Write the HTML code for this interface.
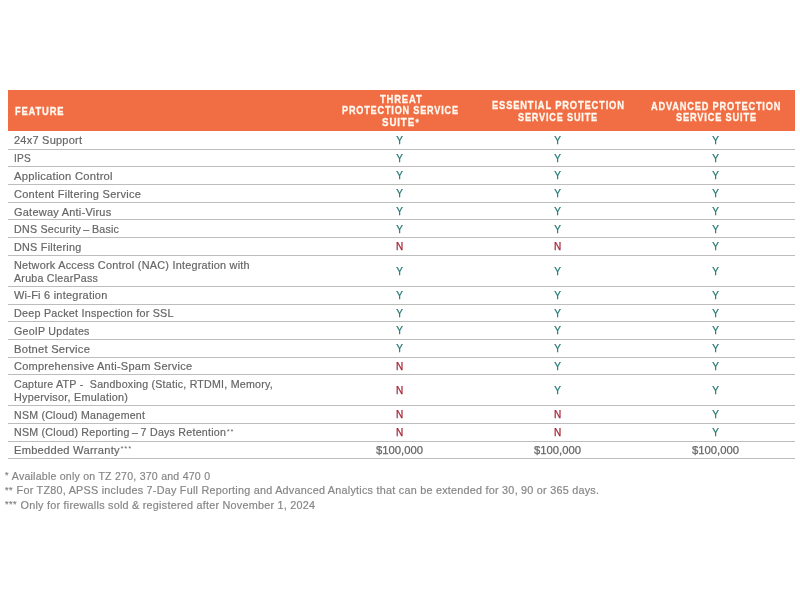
<!DOCTYPE html>
<html><head><meta charset="utf-8">
<style>
html,body{margin:0;padding:0;background:#fff;width:800px;height:600px;overflow:hidden}
body{font-family:"Liberation Sans",sans-serif;position:relative}
.hdr{position:absolute;left:8px;top:89.5px;width:786.5px;height:41px;background:#f16e45}
.ht{position:absolute;color:#fff9f0;-webkit-text-stroke:0.3px currentColor;font-weight:bold;font-size:11.2px;line-height:12px;letter-spacing:1.0px;white-space:nowrap;transform-origin:0 0}
.ht sup{font-size:9.5px;vertical-align:0;position:relative;top:-1.2px;letter-spacing:0;margin-left:0.5px}
.ln{position:absolute;left:8px;width:786.5px;height:1px;background:#bdbdbd}
.row{position:absolute;left:0;width:800px}
.f{position:absolute;left:14px;top:1.2px;bottom:-1.2px;display:flex;flex-direction:column;justify-content:center;font-size:11.3px;line-height:13.2px;color:#666666;white-space:nowrap;letter-spacing:0.25px;-webkit-text-stroke:0.2px currentColor}
.fl{transform-origin:0 50%}
.v{position:absolute;top:0.4px;bottom:-0.4px;width:158px;display:flex;align-items:center;justify-content:center;font-size:10px;-webkit-text-stroke:0.25px currentColor}
.Y{color:#267873}
.N{color:#a22538}
.P{color:#666666;font-size:11.3px;transform:translateY(-0.5px)}
.ast{font-size:8px;position:relative;top:-2.5px;letter-spacing:0.9px;margin-left:0.6px;-webkit-text-stroke:0}
.foot{position:absolute;left:5px;letter-spacing:0.25px;font-size:11.3px;color:#868686;white-space:nowrap;transform-origin:0 0;-webkit-text-stroke:0.2px currentColor}
.foot .ast{font-size:9.5px;top:-1.5px;margin-left:0;margin-right:0.3px;letter-spacing:0.5px;-webkit-text-stroke:0.2px currentColor}
.aa{will-change:transform}
</style></head><body><div class="aa" style="position:absolute;left:0;top:0;width:800px;height:600px">
<div class="hdr"></div>
<div class="ht" style="left:15.14px;top:105.00px;transform:scaleX(0.8359)">FEATURE</div>
<div class="ht" style="left:379.61px;top:93.10px;transform:scaleX(0.8415)">THREAT</div>
<div class="ht" style="left:341.99px;top:104.45px;transform:scaleX(0.8155)">PROTECTION SERVICE</div>
<div class="ht" style="left:381.81px;top:116.10px;transform:scaleX(0.8718)">SUITE<sup>*</sup></div>
<div class="ht" style="left:491.98px;top:99.00px;transform:scaleX(0.8349)">ESSENTIAL PROTECTION</div>
<div class="ht" style="left:518.00px;top:111.00px;transform:scaleX(0.8165)">SERVICE SUITE</div>
<div class="ht" style="left:651.00px;top:99.60px;transform:scaleX(0.8239)">ADVANCED PROTECTION</div>
<div class="ht" style="left:676.00px;top:111.00px;transform:scaleX(0.8256)">SERVICE SUITE</div>
<div class="row" style="top:131.00px;height:17.50px"><div class="f"><div class="fl" style="transform:scaleX(0.9725)">24x7 Support</div></div><div class="v Y" style="left:320.5px">Y</div><div class="v Y" style="left:478.5px">Y</div><div class="v Y" style="left:636.5px">Y</div></div>
<div class="row" style="top:149.50px;height:16.70px"><div class="f"><div class="fl" style="transform:scaleX(0.8987)">IPS</div></div><div class="v Y" style="left:320.5px">Y</div><div class="v Y" style="left:478.5px">Y</div><div class="v Y" style="left:636.5px">Y</div></div>
<div class="row" style="top:167.20px;height:16.70px"><div class="f"><div class="fl" style="transform:scaleX(0.9927)">Application Control</div></div><div class="v Y" style="left:320.5px">Y</div><div class="v Y" style="left:478.5px">Y</div><div class="v Y" style="left:636.5px">Y</div></div>
<div class="row" style="top:184.90px;height:16.80px"><div class="f"><div class="fl" style="transform:scaleX(0.9780)">Content Filtering Service</div></div><div class="v Y" style="left:320.5px">Y</div><div class="v Y" style="left:478.5px">Y</div><div class="v Y" style="left:636.5px">Y</div></div>
<div class="row" style="top:202.70px;height:16.60px"><div class="f"><div class="fl" style="transform:scaleX(0.9706)">Gateway Anti-Virus</div></div><div class="v Y" style="left:320.5px">Y</div><div class="v Y" style="left:478.5px">Y</div><div class="v Y" style="left:636.5px">Y</div></div>
<div class="row" style="top:220.30px;height:16.70px"><div class="f"><div class="fl" style="transform:scaleX(0.9457)">DNS Security&thinsp;–&thinsp;Basic</div></div><div class="v Y" style="left:320.5px">Y</div><div class="v Y" style="left:478.5px">Y</div><div class="v Y" style="left:636.5px">Y</div></div>
<div class="row" style="top:238.00px;height:16.80px"><div class="f"><div class="fl" style="transform:scaleX(0.9572)">DNS Filtering</div></div><div class="v N" style="left:320.5px">N</div><div class="v N" style="left:478.5px">N</div><div class="v Y" style="left:636.5px">Y</div></div>
<div class="row" style="top:255.80px;height:29.70px"><div class="f"><div class="fl" style="transform:scaleX(0.9610)">Network Access Control (NAC) Integration with</div><div class="fl" style="transform:scaleX(0.9433)">Aruba ClearPass</div></div><div class="v Y" style="left:320.5px">Y</div><div class="v Y" style="left:478.5px">Y</div><div class="v Y" style="left:636.5px">Y</div></div>
<div class="row" style="top:286.50px;height:17.00px"><div class="f" style="transform:translateY(-0.8px)"><div class="fl" style="transform:scaleX(0.9701)">Wi-Fi 6 integration</div></div><div class="v Y" style="left:320.5px">Y</div><div class="v Y" style="left:478.5px">Y</div><div class="v Y" style="left:636.5px">Y</div></div>
<div class="row" style="top:304.50px;height:16.30px"><div class="f"><div class="fl" style="transform:scaleX(0.9531)">Deep Packet Inspection for SSL</div></div><div class="v Y" style="left:320.5px">Y</div><div class="v Y" style="left:478.5px">Y</div><div class="v Y" style="left:636.5px">Y</div></div>
<div class="row" style="top:321.80px;height:17.00px"><div class="f"><div class="fl" style="transform:scaleX(0.9420)">GeoIP Updates</div></div><div class="v Y" style="left:320.5px">Y</div><div class="v Y" style="left:478.5px">Y</div><div class="v Y" style="left:636.5px">Y</div></div>
<div class="row" style="top:339.80px;height:16.70px"><div class="f"><div class="fl" style="transform:scaleX(0.9888)">Botnet Service</div></div><div class="v Y" style="left:320.5px">Y</div><div class="v Y" style="left:478.5px">Y</div><div class="v Y" style="left:636.5px">Y</div></div>
<div class="row" style="top:357.50px;height:16.70px"><div class="f"><div class="fl" style="transform:scaleX(0.9746)">Comprehensive Anti-Spam Service</div></div><div class="v N" style="left:320.5px">N</div><div class="v Y" style="left:478.5px">Y</div><div class="v Y" style="left:636.5px">Y</div></div>
<div class="row" style="top:375.20px;height:29.80px"><div class="f"><div class="fl" style="transform:scaleX(0.9410)">Capture ATP - &nbsp;Sandboxing (Static, RTDMI, Memory,</div><div class="fl" style="transform:scaleX(0.9582)">Hypervisor, Emulation)</div></div><div class="v N" style="left:320.5px">N</div><div class="v Y" style="left:478.5px">Y</div><div class="v Y" style="left:636.5px">Y</div></div>
<div class="row" style="top:406.00px;height:16.80px"><div class="f"><div class="fl" style="transform:scaleX(0.9375)">NSM (Cloud) Management</div></div><div class="v N" style="left:320.5px">N</div><div class="v N" style="left:478.5px">N</div><div class="v Y" style="left:636.5px">Y</div></div>
<div class="row" style="top:423.80px;height:16.70px"><div class="f"><div class="fl" style="transform:scaleX(0.9432)">NSM (Cloud) Reporting&thinsp;–&thinsp;7 Days Retention<span class="ast">**</span></div></div><div class="v N" style="left:320.5px">N</div><div class="v N" style="left:478.5px">N</div><div class="v Y" style="left:636.5px">Y</div></div>
<div class="row" style="top:441.50px;height:16.50px"><div class="f"><div class="fl" style="transform:scaleX(0.9848)">Embedded Warranty<span class="ast">***</span></div></div><div class="v P" style="left:320.5px">$100,000</div><div class="v P" style="left:478.5px">$100,000</div><div class="v P" style="left:636.5px">$100,000</div></div>
<div class="ln" style="top:148.50px"></div>
<div class="ln" style="top:166.20px"></div>
<div class="ln" style="top:183.90px"></div>
<div class="ln" style="top:201.70px"></div>
<div class="ln" style="top:219.30px"></div>
<div class="ln" style="top:237.00px"></div>
<div class="ln" style="top:254.80px"></div>
<div class="ln" style="top:285.50px"></div>
<div class="ln" style="top:303.50px"></div>
<div class="ln" style="top:320.80px"></div>
<div class="ln" style="top:338.80px"></div>
<div class="ln" style="top:356.50px"></div>
<div class="ln" style="top:374.20px"></div>
<div class="ln" style="top:405.00px"></div>
<div class="ln" style="top:422.80px"></div>
<div class="ln" style="top:440.50px"></div>
<div class="ln" style="top:458.00px"></div>
<div class="foot" style="top:469.50px;transform:scaleX(0.9352)"><span class="ast">*</span> Available only on TZ 270, 370 and 470 0</div>
<div class="foot" style="top:484.00px;transform:scaleX(0.9573)"><span class="ast">**</span> For TZ80, APSS includes 7-Day Full Reporting and Advanced Analytics that can be extended for 30, 90 or 365 days.</div>
<div class="foot" style="top:498.50px;transform:scaleX(0.9571)"><span class="ast">***</span> Only for firewalls sold &amp; registered after November 1, 2024</div>
</div></body></html>
